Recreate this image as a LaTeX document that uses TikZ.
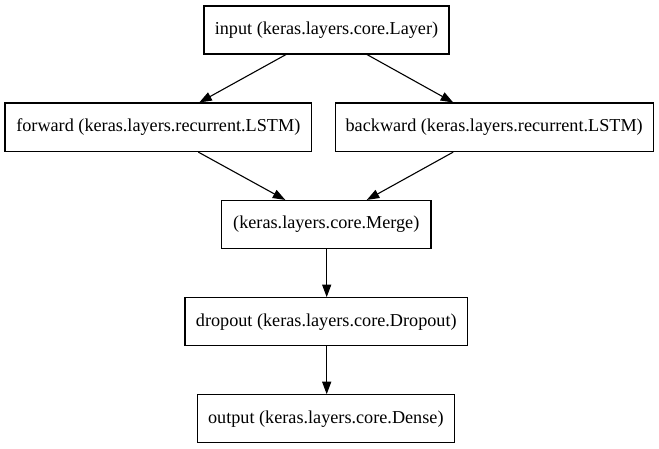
\documentclass[tikz,border=0pt]{standalone}
\usepackage{fontspec}
\setmainfont{Liberation Serif}
\usetikzlibrary{arrows.meta}
\begin{document}
\begin{tikzpicture}[x=1pt,y=1pt,
  layer/.style={draw=black, line width=1.1pt, rectangle, inner sep=0pt,
    minimum height=48pt, font=\fontsize{18.2}{21}\selectfont},
  edge/.style={draw=black, line width=1.1pt, -{Triangle[length=12.5pt,width=9pt]}}]
\useasboundingbox (0,0) rectangle (659,449);
\node[layer, minimum width=245pt] (input) at (326.5,419) {input (keras.layers.core.Layer)};
\node[layer, minimum width=306.7pt, minimum height=48.5pt] (forward) at (158.3,321.7) {forward (keras.layers.recurrent.LSTM)};
\node[layer, minimum width=318.3pt, minimum height=48.5pt] (backward) at (494.2,321.7) {backward (keras.layers.recurrent.LSTM)};
\node[layer, minimum width=209.3pt] (merge) at (326.3,224.5) {(keras.layers.core.Merge)};
\node[layer, minimum width=282.7pt] (dropout) at (326.3,127.3) {dropout (keras.layers.core.Dropout)};
\node[layer, minimum width=257pt] (output) at (325.8,30.2) {output (keras.layers.core.Dense)};
\draw[edge] ([xshift=-40.5pt]input.south) -- ([xshift=41pt]forward.north);
\draw[edge] ([xshift=40.5pt]input.south) -- ([xshift=-41pt]backward.north);
\draw[edge] ([xshift=40pt]forward.south) -- ([xshift=-41pt]merge.north);
\draw[edge] ([xshift=-41pt]backward.south) -- ([xshift=40.5pt]merge.north);
\draw[edge] ([xshift=0.4pt]merge.south) -- ([xshift=0.4pt]dropout.north);
\draw[edge] ([xshift=0.4pt]dropout.south) -- ([xshift=0.9pt]output.north);
\end{tikzpicture}
\end{document}
